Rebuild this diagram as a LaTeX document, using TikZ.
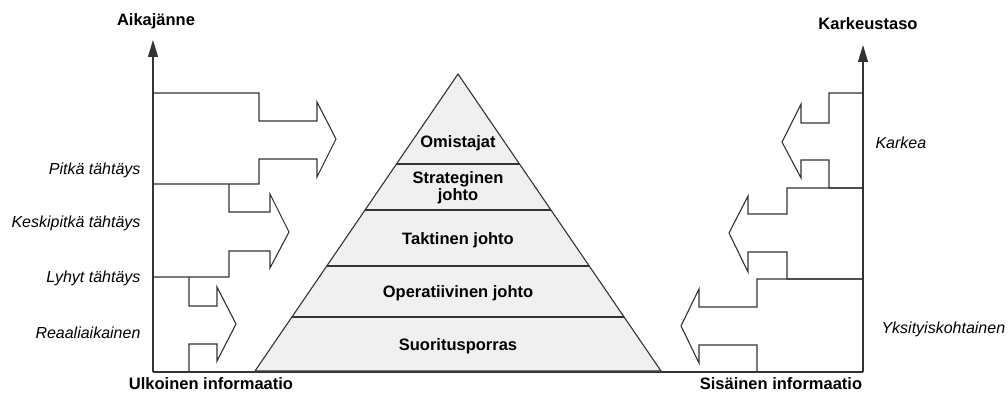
\documentclass[tikz,border=0pt]{standalone}
\usepackage{fontspec}
\setmainfont{Liberation Sans}
\usetikzlibrary{arrows.meta}

\tikzset{
  ln/.style={draw=black!80, line width=1.1pt, line join=miter},
  axis/.style={ln, -{Triangle[length=17pt,width=10pt]}},
  ttl/.style={font=\fontsize{16.5}{19}\selectfont\bfseries},
  lbl/.style={font=\fontsize{16}{19}\selectfont\itshape},
  layer/.style={font=\fontsize{16.5}{19}\selectfont\bfseries, align=center}
}

\begin{document}
\begin{tikzpicture}[x=1pt,y=-1pt]
        \useasboundingbox (0,0) rectangle (1008,393);

        % Axes
        \coordinate (origL) at (153,372);
        \coordinate (topL) at (153,40);
        \coordinate (origR) at (863,372);
        \coordinate (topR) at (863,45);
        \draw[axis] (origL) -- (topL);
        \draw[axis] (origR) -- (topR);
        \draw[ln] (origL) -- (origR);
        \node[ttl] (aika) at (156,21) {Aikajänne};
        \node[ttl] (karkeus) at (868,24) {Karkeustaso};
        \node[ttl] (ulk) at (211,384) {Ulkoinen informaatio};
        \node[ttl] (sis) at (781,384) {Sisäinen informaatio};

        % Pyramid
        \fill[black!6] (458,74) -- (661,371) -- (255,371) -- cycle;
        \begin{scope}
            \clip (458,74) -- (661,371) -- (255,371) -- cycle;
            \foreach \y in {164,210,266,317}
                \draw[ln] (250,\y) -- (670,\y);
        \end{scope}
        \draw[ln] (458,74) -- (661,371) -- (255,371) -- cycle;
        \node[layer] (omist) at (458,143) {Omistajat};
        \node[layer] (strat) at (458,188) {Strateginen\\[-2pt]johto};
        \node[layer] (takt) at (458,240) {Taktinen johto};
        \node[layer] (oper) at (458,293) {Operatiivinen johto};
        \node[layer] (suor) at (458,346) {Suoritusporras};

        % Left block arrows (time span)
        \draw[ln] (153,93) -- (259,93) -- (259,121) -- (317,121) -- (317,102) -- (336,139)
            -- (317,177) -- (317,159) -- (259,159) -- (259,184) -- (153,184);
        \draw[ln] (229,184) -- (229,212) -- (270,212) -- (270,194) -- (289,232)
            -- (270,268) -- (270,251) -- (229,251) -- (229,277) -- (153,277);
        \draw[ln] (189,277) -- (189,306) -- (217,306) -- (217,287) -- (236,324)
            -- (217,361) -- (217,344) -- (189,344) -- (189,372);
        \node[lbl, anchor=east] (pitka) at (144,170) {Pitkä tähtäys};
        \node[lbl, anchor=east] (keski) at (144,223) {Keskipitkä tähtäys};
        \node[lbl, anchor=east] (lyhyt) at (144,278) {Lyhyt tähtäys};
        \node[lbl, anchor=east] (reaali) at (144,333) {Reaaliaikainen};

        % Right block arrows (level of detail)
        \draw[ln] (863,93) -- (829,93) -- (829,123) -- (801,123) -- (801,104) -- (782,142)
            -- (801,178) -- (801,160) -- (829,160) -- (829,188) -- (863,188);
        \draw[ln] (863,188) -- (787,188) -- (787,214) -- (748,214) -- (748,196) -- (729,233)
            -- (748,272) -- (748,252) -- (787,252) -- (787,279) -- (863,279);
        \draw[ln] (863,279) -- (757,279) -- (757,307) -- (699,307) -- (699,289) -- (681,326)
            -- (699,363) -- (699,345) -- (757,345) -- (757,372);
        \node[lbl, anchor=west] (karkea) at (872,143) {Karkea};
        \node[lbl, anchor=west] (yksi) at (878,329) {Yksityiskohtainen};
    \end{tikzpicture}
\end{document}
